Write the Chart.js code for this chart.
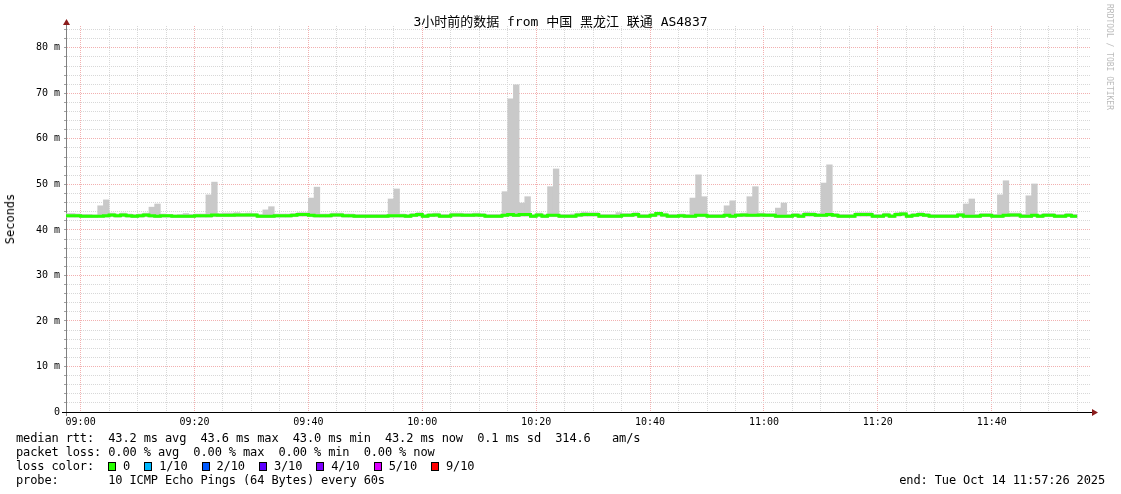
<!DOCTYPE html>
<html>
<head>
<meta charset="utf-8">
<script src="https://cdn.jsdelivr.net/npm/chart.js@4.4.1/dist/chart.umd.min.js"></script>
<style>
  body { margin: 0; background: #fff; }
  #wrap { position: relative; width: 1121px; height: 494px; font-family: "DejaVu Sans Mono", "Noto Sans CJK SC", monospace; color: #000; overflow: hidden; }
  #chart { position: absolute; left: 0; top: 0; }
  .txt { position: absolute; white-space: pre; }
  #title { left: 0; width: 1121px; top: 14px; text-align: center; font-size: 13px; line-height: 16px; }
  #ytitle { left: 10px; top: 219px; font-size: 12px; transform: translate(-50%, -50%) rotate(-90deg); }
  #legend { left: 16px; top: 431px; font-size: 12px; line-height: 14px; letter-spacing: -0.13px; }
  #end { right: 16px; top: 473px; font-size: 12px; line-height: 14px; letter-spacing: -0.13px; }
  #credit { left: 1105px; top: 4px; font-size: 8px; color: #bbb; writing-mode: vertical-rl; }
  .sq { display: inline-block; width: 8px; height: 9px; box-sizing: border-box; border: 1px solid #000; vertical-align: -1px; margin-right: -0.3px; }
</style>
</head>
<body>
<div id="wrap">
  <canvas id="chart" width="1121" height="494"></canvas>
  <div class="txt" id="title">3小时前的数据 from 中国 黑龙江 联通 AS4837</div>
  <div class="txt" id="ytitle">Seconds</div>
  <div class="txt" id="credit">RRDTOOL / TOBI OETIKER</div>
  <div class="txt" id="legend">median rtt:  43.2 ms avg  43.6 ms max  43.0 ms min  43.2 ms now  0.1 ms sd  314.6   am/s
packet loss: 0.00 % avg  0.00 % max  0.00 % min  0.00 % now
loss color:  <span class="sq" style="background:#26ff00"></span> 0  <span class="sq" style="background:#00b8ff"></span> 1/10  <span class="sq" style="background:#0059ff"></span> 2/10  <span class="sq" style="background:#5e00ff"></span> 3/10  <span class="sq" style="background:#7e00ff"></span> 4/10  <span class="sq" style="background:#dd00ff"></span> 5/10  <span class="sq" style="background:#ff0000"></span> 9/10
probe:       10 ICMP Echo Pings (64 Bytes) every 60s</div>
  <div class="txt" id="end">end: Tue Oct 14 11:57:26 2025</div>
</div>
<script>
  // time axis in minutes after 09:00; window is 08:57:26 .. 11:57:26
  const axisStart = -2.567;
  const axisEnd = 177.433;
  const firstBin = -3; // first one-minute bin starts at 08:57

  const xTickLabels = ["09:00", "09:20", "09:40", "10:00", "10:20", "10:40", "11:00", "11:20", "11:40"];
  const yTickLabels = ["0", "10 m", "20 m", "30 m", "40 m", "50 m", "60 m", "70 m", "80 m"];
  const yMax = 84.8;

  // median rtt per minute (ms)
  const medianRtt = [
    43.1, 43.1, 43.1,
    43.0, 43.0, 43.0, 43.0, 43.1, 43.3, 43.1, 43.3, 43.1, 43.0,
    43.1, 43.3, 43.1, 43.0, 43.1, 43.1, 43.0, 43.0, 43.0, 43.0,
    43.1, 43.1, 43.1, 43.3, 43.2, 43.2, 43.2, 43.3, 43.3, 43.3,
    43.3, 43.0, 43.0, 43.0, 43.1, 43.1, 43.1, 43.2, 43.4, 43.4,
    43.2, 43.1, 43.1, 43.1, 43.3, 43.3, 43.1, 43.1, 43.0, 43.0,
    43.0, 43.0, 43.0, 43.0, 43.1, 43.1, 43.1, 43.0, 43.2, 43.4,
    43.0, 43.2, 43.3, 43.0, 43.0, 43.3, 43.3, 43.2, 43.2, 43.3,
    43.2, 43.0, 43.0, 43.0, 43.2, 43.4, 43.2, 43.4, 43.4, 43.0,
    43.3, 43.0, 43.2, 43.2, 43.0, 43.0, 43.0, 43.3, 43.4, 43.4,
    43.4, 43.0, 43.0, 43.0, 43.0, 43.2, 43.2, 43.4, 43.0, 43.0,
    43.2, 43.6, 43.3, 43.0, 43.0, 43.1, 43.0, 43.0, 43.2, 43.2,
    43.0, 43.0, 43.0, 43.2, 43.0, 43.2, 43.3, 43.2, 43.2, 43.3,
    43.2, 43.2, 43.0, 43.0, 43.0, 43.2, 43.0, 43.4, 43.4, 43.2,
    43.2, 43.4, 43.2, 43.0, 43.0, 43.0, 43.4, 43.4, 43.4, 43.0,
    43.0, 43.3, 43.0, 43.4, 43.5, 43.0, 43.2, 43.4, 43.2, 43.0,
    43.0, 43.0, 43.0, 43.0, 43.3, 43.0, 43.0, 43.0, 43.2, 43.2,
    43.0, 43.0, 43.2, 43.3, 43.3, 43.0, 43.0, 43.2, 43.0, 43.2,
    43.2, 43.0, 43.0, 43.2, 43.0
  ];

  // smoke: lowest and highest ping of each minute (ms)
  const smokeLow = [
    42.8, 42.8, 42.8,
    42.7, 42.7, 42.7, 42.8, 42.8, 42.9, 42.8, 42.9, 42.8, 42.7,
    42.8, 42.9, 42.8, 42.7, 42.8, 42.8, 42.7, 42.7, 42.7, 42.7,
    42.8, 42.8, 42.8, 42.9, 42.9, 42.9, 42.9, 42.9, 42.9, 42.9,
    42.9, 42.7, 42.7, 42.7, 42.8, 42.8, 42.8, 42.9, 43.0, 43.0,
    42.9, 42.8, 42.8, 42.8, 42.9, 42.9, 42.8, 42.8, 42.7, 42.7,
    42.7, 42.7, 42.7, 42.7, 42.8, 42.8, 42.8, 42.7, 42.9, 43.0,
    42.7, 42.9, 42.9, 42.7, 42.7, 42.9, 42.9, 42.9, 42.9, 42.9,
    42.9, 42.7, 42.7, 42.7, 42.9, 43.0, 42.9, 43.0, 43.0, 42.7,
    42.9, 42.7, 42.9, 42.9, 42.7, 42.7, 42.7, 42.9, 43.0, 43.0,
    43.0, 42.7, 42.7, 42.7, 42.7, 42.9, 42.9, 43.0, 42.7, 42.7,
    42.9, 43.1, 42.9, 42.7, 42.7, 42.8, 42.7, 42.7, 42.9, 42.9,
    42.7, 42.7, 42.7, 42.9, 42.7, 42.9, 42.9, 42.9, 42.9, 42.9,
    42.9, 42.9, 42.7, 42.7, 42.7, 42.9, 42.7, 43.0, 43.0, 42.9,
    42.9, 43.0, 42.9, 42.7, 42.7, 42.7, 43.0, 43.0, 43.0, 42.7,
    42.7, 42.9, 42.7, 43.0, 43.1, 42.7, 42.9, 43.0, 42.9, 42.7,
    42.7, 42.7, 42.7, 42.7, 42.9, 42.7, 42.7, 42.7, 42.9, 42.9,
    42.7, 42.7, 42.9, 42.9, 42.9, 42.7, 42.7, 42.9, 42.7, 42.9,
    42.9, 42.7, 42.7, 42.9, 42.7
  ];

  const smokeHigh = [
    43.6, 43.6, 43.5,
    43.4, 43.4, 43.3, 45.3, 46.6, 43.7, 43.5, 43.7, 43.5, 43.4,
    43.5, 43.7, 45.0, 45.7, 43.5, 43.4, 43.3, 43.4, 43.6, 43.4,
    43.5, 43.5, 47.7, 50.5, 43.6, 43.7, 43.7, 43.8, 43.6, 43.7,
    43.6, 43.4, 44.4, 45.1, 43.5, 43.5, 43.5, 43.6, 43.8, 43.8,
    47.0, 49.4, 43.5, 43.5, 43.7, 43.7, 43.5, 43.5, 43.4, 43.4,
    43.4, 43.4, 43.4, 43.4, 46.8, 49.0, 43.5, 43.4, 43.6, 43.8,
    43.4, 43.6, 43.7, 43.4, 43.4, 43.7, 43.7, 43.6, 43.6, 43.7,
    43.6, 43.4, 43.4, 43.4, 48.4, 68.8, 71.9, 45.9, 47.3, 43.4,
    43.7, 43.4, 49.5, 53.4, 43.4, 43.4, 43.5, 43.7, 43.9, 43.8,
    43.8, 43.4, 43.4, 43.4, 43.8, 43.6, 43.6, 43.8, 43.4, 43.4,
    43.6, 43.9, 43.7, 43.4, 43.4, 43.5, 43.4, 47.0, 52.1, 47.3,
    43.4, 43.4, 43.4, 45.3, 46.4, 43.6, 43.7, 47.3, 49.5, 43.7,
    43.6, 43.6, 44.8, 45.9, 43.4, 43.6, 43.5, 43.9, 43.8, 43.6,
    50.3, 54.3, 43.6, 43.4, 43.4, 43.4, 43.8, 43.8, 43.8, 43.4,
    43.4, 43.7, 43.4, 43.8, 43.9, 43.4, 43.6, 43.8, 43.6, 43.4,
    43.4, 43.4, 43.4, 43.4, 43.7, 45.7, 46.8, 43.4, 43.6, 43.6,
    43.4, 47.7, 50.8, 43.7, 43.7, 43.4, 47.5, 50.1, 43.4, 43.6,
    43.6, 43.4, 43.4, 43.6, 43.4
  ];

  const lossColor0 = "#26ff00";
  const smokeColor = "#c9c9c9";
  const majorGrid = "#f2b0b0";
  const minorGrid = "#d8d8d8";

  // build datasets
  const smokeBars = smokeHigh.map((hi, i) => ({ x: firstBin + i + 0.5, y: [smokeLow[i], hi] }));
  const medianLine = medianRtt.map((v, i) => ({ x: firstBin + i, y: v }));
  medianLine.push({ x: firstBin + medianRtt.length, y: medianRtt[medianRtt.length - 1] });

  function gridTicks(from, to, step) {
    const out = [];
    for (let v = from; v <= to; v += step) out.push({ value: v });
    return out;
  }

  const axisArrows = {
    id: "axisArrows",
    afterDraw(chart) {
      const { ctx, chartArea: a } = chart;
      const lx = a.left + 0.5;
      const by = a.bottom + 0.5;
      ctx.save();
      ctx.lineWidth = 1;
      ctx.strokeStyle = "#808080";
      ctx.beginPath();
      ctx.moveTo(lx, a.top);
      ctx.lineTo(lx, a.top - 2);
      ctx.moveTo(lx, a.bottom);
      ctx.lineTo(lx, a.bottom + 4);
      ctx.stroke();
      ctx.strokeStyle = "#000";
      ctx.beginPath();
      ctx.moveTo(a.left - 4, by);
      ctx.lineTo(a.right + 2, by);
      ctx.stroke();
      ctx.fillStyle = "#8b1c1c";
      ctx.beginPath();
      ctx.moveTo(lx, a.top - 7);
      ctx.lineTo(lx - 3.5, a.top - 1);
      ctx.lineTo(lx + 3.5, a.top - 1);
      ctx.closePath();
      ctx.fill();
      ctx.beginPath();
      ctx.moveTo(a.right + 7, by);
      ctx.lineTo(a.right + 1, by - 3.5);
      ctx.lineTo(a.right + 1, by + 3.5);
      ctx.closePath();
      ctx.fill();
      ctx.restore();
    },
  };

  new Chart(document.getElementById("chart"), {
    type: "bar",
    data: {
      datasets: [
        {
          type: "line",
          data: medianLine,
          borderColor: lossColor0,
          borderWidth: 3,
          stepped: "before",
          pointRadius: 0,
          borderCapStyle: "butt",
          borderJoinStyle: "miter",
          order: 0,
        },
        {
          type: "bar",
          data: smokeBars,
          backgroundColor: smokeColor,
          borderWidth: 0,
          categoryPercentage: 1,
          barPercentage: 1,
          order: 1,
        },
      ],
    },
    options: {
      responsive: false,
      animation: false,
      events: [],
      layout: { padding: { top: 26, right: 30, left: 0, bottom: 0 } },
      plugins: { legend: { display: false }, tooltip: { enabled: false }, title: { display: false } },
      scales: {
        x: {
          type: "linear",
          min: axisStart,
          max: axisEnd,
          bounds: "data",
          offset: false,
          afterFit: (s) => { s.height = 82; },
          afterBuildTicks: (s) => { s.ticks = gridTicks(0, 175, 5); },
          grid: {
            offset: false,
            drawTicks: false,
            color: (c) => (c.tick && c.tick.value % 20 === 0 ? majorGrid : minorGrid),
            lineWidth: 1,
          },
          border: { display: true, color: "#000", width: 1, dash: [1, 1] },
          ticks: {
            autoSkip: false,
            maxRotation: 0,
            padding: 4,
            color: "#000",
            font: { family: "DejaVu Sans Mono", size: 10 },
            callback: (v) => (v % 20 === 0 ? xTickLabels[v / 20] : ""),
          },
        },
        y: {
          type: "linear",
          min: 0,
          max: yMax,
          bounds: "data",
          afterFit: (s) => { s.width = 66; },
          afterBuildTicks: (s) => { s.ticks = gridTicks(0, 84, 2); },
          grid: {
            color: (c) => (c.tick && c.tick.value % 10 === 0 ? majorGrid : minorGrid),
            lineWidth: 1,
            tickLength: 2,
            tickColor: "#a0a0a0",
          },
          border: { display: true, color: "#808080", width: 1, dash: [1, 1] },
          ticks: {
            autoSkip: false,
            padding: 4,
            color: "#000",
            font: { family: "DejaVu Sans Mono", size: 10 },
            callback: (v) => (v % 10 === 0 ? yTickLabels[v / 10] : ""),
          },
        },
      },
    },
    plugins: [axisArrows],
  });
</script>
</body>
</html>
